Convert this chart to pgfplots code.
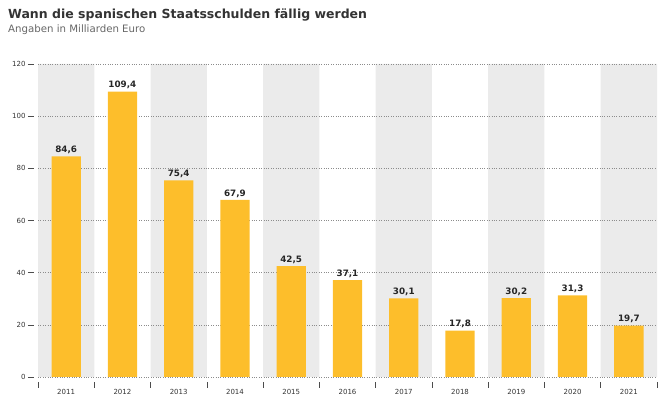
\documentclass[border=0pt]{standalone}
\usepackage{pgfplots}
\pgfplotsset{compat=1.18}
\usepackage{fontspec}
\setmainfont{DejaVu Sans}
\definecolor{barcol}{HTML}{FDBE2B}
\definecolor{band}{HTML}{EBEBEB}
\definecolor{txt}{HTML}{333333}

\begin{document}
\begin{tikzpicture}[x=1pt,y=1pt]
  \begin{axis}[
      set layers,
      at={(0,0)}, anchor=south west,
      scale only axis,
      width=619pt, height=313pt,
      xmin=-0.5, xmax=10.5,
      ymin=0, ymax=120,
      ytick={0,20,...,120},
      xtick={0,...,10},
      xticklabels={2011,2012,2013,2014,2015,2016,2017,2018,2019,2020,2021},
      minor xtick={-0.5,0.5,...,10.5},
      tick align=outside,
      tick pos=left,
      major tick length=6pt,
      minor tick length=6pt,
      xtick style={draw=none},
      minor x tick style={yshift=-5pt, draw=black!70, line width=0.6pt},
      ytick style={xshift=-4pt, draw=black!70, line width=0.6pt},
      axis line style={draw=none},
      ymajorgrids,
      major grid style={dotted, black!45, line width=0.6pt},
      tick label style={font=\fontsize{7}{8}\selectfont, text=txt},
      xticklabel style={yshift=-2.5pt},
      yticklabel style={xshift=-3pt},
      /pgf/number format/assume math mode=true,
    ]
    % alternating background bands
    \addplot[ybar, bar width=1, bar shift=0pt, fill=band, draw=none, on layer=axis background]
      coordinates {(0,120) (2,120) (4,120) (6,120) (8,120) (10,120)};
    % maturities
    \addplot[ybar, bar width=0.52, bar shift=0pt, fill=barcol, draw=none,
      nodes near coords,
      nodes near coords style={font=\bfseries\fontsize{8.8}{10}\selectfont, text=black!85, yshift=-1pt,
        /pgf/number format/.cd, fixed, fixed zerofill, precision=1, use comma, assume math mode=true}]
      coordinates {(0,84.6) (1,109.4) (2,75.4) (3,67.9) (4,42.5) (5,37.1)
                   (6,30.1) (7,17.8) (8,30.2) (9,31.3) (10,19.7)};
  \end{axis}
  % title and subtitle
  \node[anchor=base west, font=\bfseries\fontsize{12.5}{14}\selectfont, text=txt, inner sep=0pt]
    at (-30,358) {Wann die spanischen Staatsschulden fällig werden};
  \node[anchor=base west, font=\fontsize{10.2}{12}\selectfont, text=black!60, inner sep=0pt]
    at (-30,344) {Angaben in Milliarden Euro};
  \pgfresetboundingbox
  \useasboundingbox (-38,-26) rectangle (628,377);
\end{tikzpicture}
\end{document}
